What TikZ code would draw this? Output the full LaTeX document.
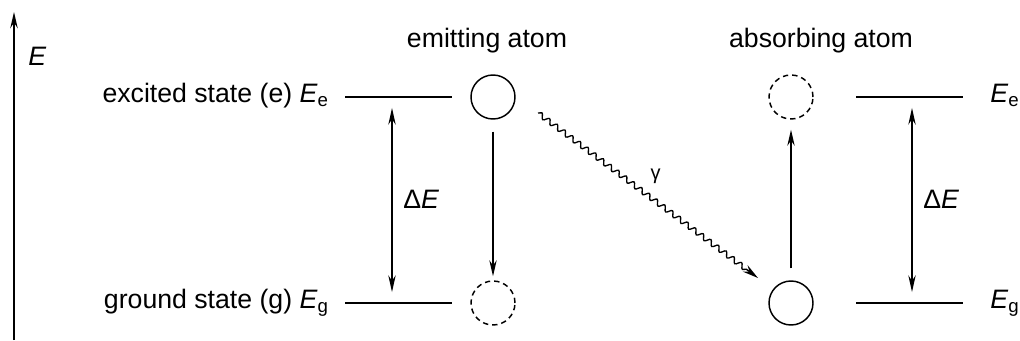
\documentclass[tikz,border=0pt]{standalone}
\usepackage{fontspec}
\setmainfont{Liberation Sans}
\usetikzlibrary{arrows.meta,decorations.pathmorphing}

\newcommand{\lvlE}[1]{\textit{E}\textsubscript{#1}}

\begin{document}
\begin{tikzpicture}[x=0.75pt,y=-0.75pt,
  every node/.style={font=\fontsize{20}{24}\selectfont},
  level/.style={line width=1.7pt},
  atom/.style={circle,draw,line width=1.1pt,minimum size=33pt,inner sep=0pt},
  virt/.style={atom,dash pattern=on 4pt off 3pt},
  gap/.style={line width=1.5pt,{Stealth[length=12.5pt,width=5.5pt]}-{Stealth[length=12.5pt,width=5.5pt]},shorten <=8.2pt,shorten >=8.2pt},
  jump/.style={line width=1.2pt,-{Stealth[length=12pt,width=5.5pt]}},
  photon/.style={line width=1pt,decorate,decoration={snake,amplitude=1.9pt,segment length=7.2pt,post length=9pt},-{Stealth[length=12pt,width=6pt]}}]
  \useasboundingbox (0,0) rectangle (1020,340);
  % energy axis
  \coordinate (ax0) at (14,340); \coordinate (ax1) at (14,12);
  \draw[level,-{Stealth[length=12pt,width=5.5pt]}] (ax0) -- (ax1);
  \node[anchor=base west,inner sep=0pt] (Eax) at (28,65) {\textit{E}};
  % atoms
  \node[atom] (emE) at (493,97) {};
  \node[virt] (emG) at (493,303) {};
  \node[virt] (abE) at (791,97) {};
  \node[atom] (abG) at (791,303) {};
  \node[anchor=base,inner sep=0pt] (emlab) at (487,47) {emitting atom};
  \node[anchor=base,inner sep=0pt] (ablab) at (821,47) {absorbing atom};
  % levels, left
  \coordinate (eL1) at (345,97); \coordinate (eL2) at (452,97);
  \coordinate (gL1) at (345,303); \coordinate (gL2) at (452,303);
  \draw[level] (eL1) -- (eL2); \draw[level] (gL1) -- (gL2);
  \node[anchor=base east,inner sep=0pt] (exlab) at (329,102) {excited state (e) \lvlE{e}};
  \node[anchor=base east,inner sep=0pt] (grlab) at (329,308) {ground state (g) \lvlE{g}};
  \coordinate (dL1) at (392,97); \coordinate (dL2) at (392,303);
  \draw[gap] (dL2) -- (dL1);
  \node[anchor=base west,inner sep=0pt] (dElab1) at (403,208) {Δ\textit{E}};
  % levels, right
  \coordinate (eR1) at (856,97); \coordinate (eR2) at (963,97);
  \coordinate (gR1) at (856,303); \coordinate (gR2) at (963,303);
  \draw[level] (eR1) -- (eR2); \draw[level] (gR1) -- (gR2);
  \node[anchor=base west,inner sep=0pt] (Eelab) at (990,102) {\lvlE{e}};
  \node[anchor=base west,inner sep=0pt] (Eglab) at (990,308) {\lvlE{g}};
  \coordinate (dR1) at (912,97); \coordinate (dR2) at (912,303);
  \draw[gap] (dR2) -- (dR1);
  \node[anchor=base west,inner sep=0pt] (dElab2) at (923,208) {Δ\textit{E}};
  % transitions
  \draw[jump,shorten <=9pt,shorten >=3pt] (emE) -- (emG);
  \draw[jump,shorten <=9pt,shorten >=7.5pt] (abG) -- (abE);
  \coordinate (ph0) at (538,113); \coordinate (ph1) at (758,278);
  \draw[photon] (ph0) -- (ph1) node[pos=0.5,anchor=south west,inner sep=0pt,xshift=1.5pt,yshift=8.5pt,font=\fontsize{15}{18}\selectfont] (gam) {γ};
\end{tikzpicture}
\end{document}
